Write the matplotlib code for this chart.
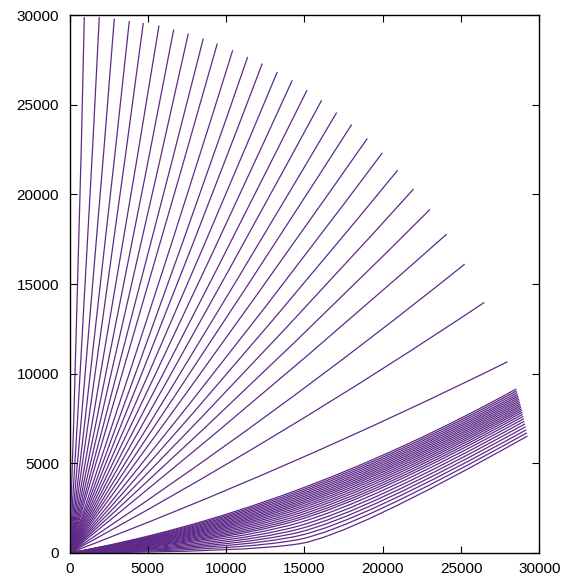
import matplotlib
matplotlib.use('Agg')
import matplotlib.pyplot as plt
from matplotlib.path import Path
from matplotlib.patches import PathPatch

LINE_COLOR = '#5e2a88'

# steep rays: end point and one bend control point per ray (first one runs up the y axis)
fan_end_x = [0, 945, 1902, 2860, 3817, 4711, 5713, 6651, 7583, 8540, 9434,
             10417, 11374, 12306, 13264, 14221, 15160, 16098, 17055, 18013, 19009,
             19966, 20949, 21970, 23011, 24077, 25226, 26477, 27958]
fan_end_y = [29990, 29904, 29904, 29815, 29681, 29570, 29425, 29202, 28979, 28700, 28421,
             28047, 27674, 27306, 26838, 26375, 25818, 25260, 24574, 23905, 23124,
             22321, 21356, 20313, 19165, 17788, 16115, 13979, 10667]
fan_ctrl_x = [0, 572, 1051, 1530, 2007, 2455, 2954, 3424, 3889, 4366, 4812,
              5395, 5872, 6335, 6811, 7286, 7753, 8218, 8692, 9166, 9659,
              10244, 10724, 11223, 11730, 12246, 12963, 13542, 14211]
fan_ctrl_y = [14995, 14949, 14946, 14898, 14827, 14769, 14693, 14579, 14465, 14321, 14178,
              13954, 13761, 13571, 13330, 13093, 12808, 12522, 12173, 11832, 11435,
              10926, 10433, 9899, 9313, 8612, 7510, 6415, 4727]

# flat bundle near the x axis: end point and two bend control points per curve
bundle_end_x = [28518, 28550, 28582, 28613, 28640, 28668, 28695, 28721, 28748, 28774,
                28800, 28825, 28851, 28876, 28903, 28933, 28964, 28998, 29034, 29071,
                29111, 29151, 29191, 29231]
bundle_end_y = [9150, 9050, 8950, 8850, 8760, 8670, 8580, 8490, 8400, 8310,
                8220, 8130, 8040, 7950, 7850, 7740, 7620, 7490, 7350, 7200,
                7040, 6870, 6700, 6524]
bundle_k1_x = [7140, 7282, 7420, 7558, 7696, 7834, 7972, 8110, 8248, 8386,
               8537, 8689, 8854, 9020, 9199, 9378, 9554, 9785, 10039, 10293,
               10554, 10831, 11139, 11500]
bundle_k1_y = [1135, 1100, 1065, 1031, 997, 962, 928, 894, 859, 825,
               787, 750, 708, 667, 623, 578, 534, 477, 414, 350,
               285, 216, 140, 50]
bundle_k2_x = [21360, 21250, 21144, 21038, 20932, 20825, 20719, 20613, 20506, 20400,
               20283, 20166, 20039, 19911, 19773, 19635, 19500, 19322, 19126, 18930,
               18729, 18515, 18278, 18000]
bundle_k2_y = [5700, 5547, 5398, 5249, 5101, 4952, 4803, 4655, 4506, 4357,
               4194, 4030, 3852, 3673, 3480, 3287, 3098, 2849, 2575, 2301,
               2020, 1721, 1390, 1000]

ticks = [0, 5000, 10000, 15000, 20000, 25000, 30000]

fig = plt.figure(figsize=(5.73, 5.78), dpi=100)
ax = fig.add_axes([0.1213, 0.0433, 0.8202, 0.9303])

for ex, ey, cx, cy in zip(fan_end_x, fan_end_y, fan_ctrl_x, fan_ctrl_y):
    path = Path([(0, 0), (cx, cy), (ex, ey)],
                [Path.MOVETO, Path.CURVE3, Path.CURVE3])
    ax.add_patch(PathPatch(path, fill=False, edgecolor=LINE_COLOR, lw=0.9))

for ex, ey, ax1, ay1, ax2, ay2 in zip(bundle_end_x, bundle_end_y, bundle_k1_x,
                                      bundle_k1_y, bundle_k2_x, bundle_k2_y):
    mid = ((ax1 + ax2) / 2, (ay1 + ay2) / 2)
    path = Path([(0, 0), (ax1, ay1), mid, (ax2, ay2), (ex, ey)],
                [Path.MOVETO, Path.CURVE3, Path.CURVE3, Path.CURVE3, Path.CURVE3])
    ax.add_patch(PathPatch(path, fill=False, edgecolor=LINE_COLOR, lw=0.9))

ax.set_xlim(0, 30000)
ax.set_ylim(0, 30000)
ax.set_xticks(ticks)
ax.set_yticks(ticks)
ax.set_xticklabels([str(t) for t in ticks])
ax.set_yticklabels([str(t) for t in ticks])
ax.tick_params(direction='in', length=5, width=0.8, top=True, right=True,
               labelsize=11, colors='black')
ax.tick_params(axis='x', pad=6.3)
ax.tick_params(axis='y', pad=7.5)
for lab in ax.get_xticklabels() + ax.get_yticklabels():
    lab.set_family('Liberation Sans')
for sp in ax.spines.values():
    sp.set_linewidth(1.0)
    sp.set_color('black')

plt.savefig('out.png', dpi=100)
plt.close()
